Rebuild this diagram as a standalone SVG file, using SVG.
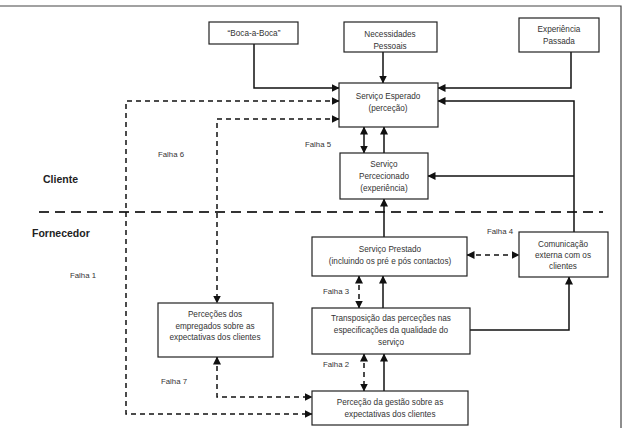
<svg xmlns="http://www.w3.org/2000/svg" width="624" height="428" viewBox="0 0 624 428">
<style>
.box{fill:#fff;stroke:#222;stroke-width:1.2}
.t{font-family:"Liberation Sans",Arial,sans-serif;font-size:8.2px;fill:#333;text-anchor:middle}
.lab{font-family:"Liberation Sans",Arial,sans-serif;font-size:7.8px;fill:#333}
.big{font-family:"Liberation Sans",Arial,sans-serif;font-size:10.5px;font-weight:bold;fill:#222}
.c{fill:none;stroke:#111;stroke-width:1.5}
.d{fill:none;stroke:#111;stroke-width:1.5;stroke-dasharray:5 4}
</style>
<defs>
<marker id="ah" markerWidth="8" markerHeight="8" refX="7.5" refY="4" orient="auto-start-reverse" markerUnits="userSpaceOnUse">
<path d="M0,0 L8,4 L0,8 z" fill="#111"/>
</marker>
</defs>
<rect width="624" height="428" fill="#fff"/>
<path d="M0,6 H621 V428" fill="none" stroke="#444" stroke-width="1.2"/>
<path d="M39,212 H603" fill="none" stroke="#333" stroke-width="2" stroke-dasharray="10 6"/>
<text class="big" x="43" y="183">Cliente</text>
<text class="big" x="32" y="237">Fornecedor</text>
<g id="connectors">
<path class="c" d="M254,44 V88 H339" marker-end="url(#ah)"/>
<path class="c" d="M383,52 V83" marker-end="url(#ah)"/>
<path class="c" d="M571,52 V88 H438" marker-end="url(#ah)"/>
<path class="c" d="M574,232 V101 H438" marker-end="url(#ah)"/>
<path class="c" d="M574,176 H428" marker-end="url(#ah)"/>
<path class="d" d="M339,101 H126 V414 H312" marker-start="url(#ah)" marker-end="url(#ah)"/>
<path class="d" d="M339,119 H217 V303" marker-start="url(#ah)" marker-end="url(#ah)"/>
<path class="c" d="M364,127 V153" marker-start="url(#ah)" marker-end="url(#ah)"/>
<path class="c" d="M384,153 V127" marker-end="url(#ah)"/>
<path class="c" d="M384,237 V199" marker-end="url(#ah)"/>
<path class="d" d="M467,255 H519" marker-start="url(#ah)" marker-end="url(#ah)"/>
<path class="d" d="M359,276 V308" marker-start="url(#ah)" marker-end="url(#ah)"/>
<path class="c" d="M383,308 V276" marker-end="url(#ah)"/>
<path class="c" d="M470,330 H569 V277" marker-end="url(#ah)"/>
<path class="d" d="M364,354 V391" marker-start="url(#ah)" marker-end="url(#ah)"/>
<path class="c" d="M384,391 V354" marker-end="url(#ah)"/>
<path class="d" d="M217,357 V397 H312" marker-start="url(#ah)" marker-end="url(#ah)"/>
</g>
<g id="boca"><rect class="box" x="209" y="22" width="89" height="22"/><text class="t" x="254" y="36">“Boca-a-Boca”</text></g>
<g id="necessidades"><rect class="box" x="344" y="22" width="93" height="30"/><text class="t" x="390" y="37">Necessidades</text><text class="t" x="390" y="49">Pessoais</text></g>
<g id="experiencia"><rect class="box" x="519" y="18" width="80" height="34"/><text class="t" x="559" y="32">Experiência</text><text class="t" x="559" y="44">Passada</text></g>
<g id="esperado"><rect class="box" x="339" y="83" width="99" height="44"/><text class="t" x="388" y="99">Serviço Esperado</text><text class="t" x="388" y="111">(perceção)</text></g>
<g id="percecionado"><rect class="box" x="340" y="153" width="88" height="46"/><text class="t" x="384" y="167">Serviço</text><text class="t" x="384" y="179">Percecionado</text><text class="t" x="384" y="191">(experiência)</text></g>
<g id="prestado"><rect class="box" x="312" y="237" width="155" height="39"/><text class="t" x="390" y="252">Serviço Prestado</text><text class="t" x="390" y="264">(incluindo os pré e pós contactos)</text></g>
<g id="comunicacao"><rect class="box" x="519" y="232" width="89" height="45"/><text class="t" x="563" y="247">Comunicação</text><text class="t" x="563" y="258">externa com os</text><text class="t" x="563" y="269">clientes</text></g>
<g id="transposicao"><rect class="box" x="312" y="308" width="158" height="46"/><text class="t" x="391" y="321">Transposição das perceções nas</text><text class="t" x="391" y="333">especificações da qualidade do</text><text class="t" x="391" y="345">serviço</text></g>
<g id="empregados"><rect class="box" x="158" y="303" width="115" height="54"/><text class="t" x="215" y="317">Perceções dos</text><text class="t" x="215" y="329">empregados sobre as</text><text class="t" x="215" y="340">expectativas dos clientes</text></g>
<g id="gestao"><rect class="box" x="312" y="391" width="156" height="34"/><text class="t" x="390" y="405">Perceção da gestão sobre as</text><text class="t" x="390" y="417">expectativas dos clientes</text></g>
<text class="lab" x="305" y="147">Falha 5</text>
<text class="lab" x="158" y="157">Falha 6</text>
<text class="lab" x="70" y="278">Falha 1</text>
<text class="lab" x="487" y="234">Falha 4</text>
<text class="lab" x="323" y="294">Falha 3</text>
<text class="lab" x="323" y="367">Falha 2</text>
<text class="lab" x="161" y="384">Falha 7</text>
</svg>
